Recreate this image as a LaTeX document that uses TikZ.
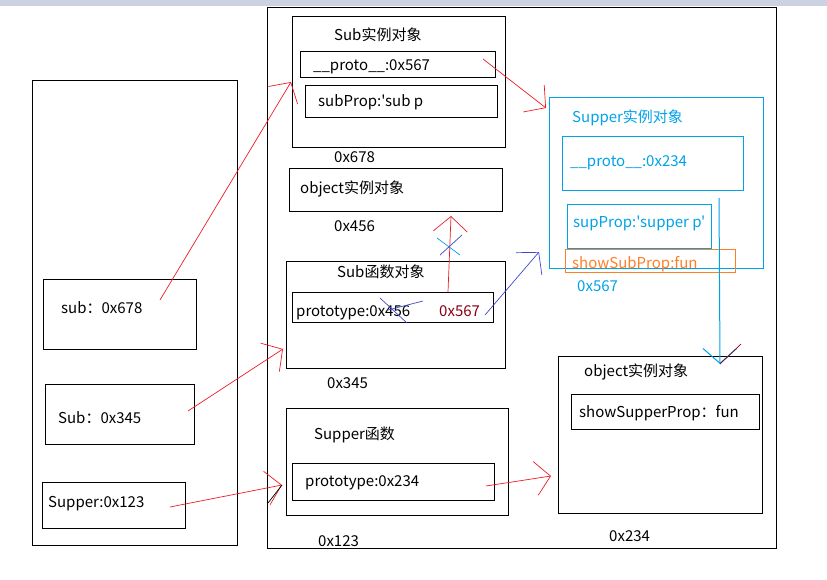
\documentclass[tikz,border=0pt]{standalone}
\usepackage{fontspec}
\setmainfont{Noto Sans CJK SC}[Ligatures=TeXOff]
\usetikzlibrary{arrows.meta}

\definecolor{pred}{HTML}{ED1C24}
\definecolor{pcyan}{HTML}{00A2E8}
\definecolor{porange}{HTML}{FF7F27}
\definecolor{pblue}{HTML}{3F48CC}
\definecolor{pdark}{HTML}{880015}
\definecolor{topbar}{HTML}{CBD3E3}

\tikzset{
  box/.style={draw, line width=1.2pt, anchor=north west, inner sep=0pt},
  txt/.style={anchor=west, inner sep=0pt, font=\fontsize{15}{17}\selectfont},
  hand/.style={-{Straight Barb[length=15pt,width=34pt]}, line width=0.7pt},
}

\begin{document}
\begin{tikzpicture}[x=1pt,y=-1pt]
\useasboundingbox (0,0) rectangle (827,580);
\fill[topbar] (0,0) rectangle (827,6);

%% stack
\node[box, minimum width=205pt, minimum height=465pt] (stack) at (32,80) {};
\node[box, minimum width=153pt, minimum height=70pt] (subv) at (43,279) {};
\node[txt] (subvT) at (61,308) {sub：0x678};
\node[box, minimum width=149pt, minimum height=60pt] (Subv) at (45,384) {};
\node[txt] (SubvT) at (58,418) {Sub：0x345};
\node[box, minimum width=143pt, minimum height=46pt] (supv) at (42,482) {};
\node[txt] (supvT) at (48,504) {Supper:0x123};

%% heap
\node[box, minimum width=509pt, minimum height=541pt] (heap) at (267,7) {};

% Sub instance
\node[box, minimum width=213pt, minimum height=131pt] (subobj) at (292,16) {};
\node[txt] (subobjT) at (334,35) {Sub实例对象};
\node[box, minimum width=195pt, minimum height=26pt] (proto1) at (300,51) {};
\node[txt] (proto1T) at (313,67) {\_\_proto\_\_:0x567};
\node[box, minimum width=192pt, minimum height=32pt] (subprop) at (305,85) {};
\node[txt] (subpropT) at (318,102) {subProp:'sub p};
\node[txt] (subobjA) at (334,157) {0x678};

% object instance (top)
\node[box, minimum width=213pt, minimum height=43pt] (objA) at (289,168) {};
\node[txt] (objAT) at (300,189) {object实例对象};
\node[txt] (objAA) at (334,226) {0x456};

% Sub function
\node[box, minimum width=219pt, minimum height=107pt] (subfn) at (286,261) {};
\node[txt] (subfnT) at (337,272) {Sub函数对象};
\node[box, minimum width=201pt, minimum height=30pt] (proto2) at (292,292) {};
\node[txt] (proto2T) at (296,313) {prototype:0x456};
\node[txt, text=pdark] (proto2N) at (439,311) {0x567};
\node[txt] (subfnA) at (327,383) {0x345};

% Supper function
\node[box, minimum width=222pt, minimum height=107pt] (supfn) at (286,408) {};
\node[txt] (supfnT) at (314,435) {Supper函数};
\node[box, minimum width=202pt, minimum height=37pt] (proto3) at (292,463) {};
\node[txt] (proto3T) at (305,483) {prototype:0x234};
\node[txt] (supfnA) at (318,541) {0x123};

% Supper instance
\node[box, draw=pcyan, minimum width=214pt, minimum height=171pt] (supobj) at (549,97) {};
\node[txt, text=pcyan] (supobjT) at (572,118) {Supper实例对象};
\node[box, draw=pcyan, minimum width=181pt, minimum height=54pt] (proto4) at (562,136) {};
\node[txt, text=pcyan] (proto4T) at (570,163) {\_\_proto\_\_:0x234};
\node[box, draw=pcyan, minimum width=144pt, minimum height=44pt] (supprop) at (567,204) {};
\node[txt, text=pcyan] (suppropT) at (573,223) {supProp:'supper p'};
\node[box, draw=porange, minimum width=170pt, minimum height=23pt] (showsub) at (565,249) {};
\node[txt, text=porange] (showsubT) at (572,264) {showSubProp:fun};
\node[txt, text=pcyan] (supobjA) at (577,286) {0x567};

% object instance (bottom)
\node[box, minimum width=204pt, minimum height=157pt] (objB) at (558,356) {};
\node[txt] (objBT) at (584,372) {object实例对象};
\node[box, minimum width=188pt, minimum height=35pt] (showsup) at (571,394) {};
\node[txt] (showsupT) at (579,413) {showSupperProp：fun};
\node[txt] (objBA) at (609,536) {0x234};

%% pointers
\coordinate (p1) at (160,300); \coordinate (q1) at (291,82);
\coordinate (p2) at (188,411); \coordinate (q2) at (283,349);
\coordinate (p3) at (170,507); \coordinate (q3) at (282,485);
\coordinate (p4) at (486,486); \coordinate (q4) at (551,476);
\coordinate (p5) at (483,59);  \coordinate (q5) at (546,108);
\coordinate (p6) at (448,292); \coordinate (q6) at (451,216);
\coordinate (p7) at (485,315); \coordinate (q7) at (539,252);
\coordinate (p8) at (719,198); \coordinate (q8) at (720,364);

\draw[hand, pred] (p1) -- (q1);
\draw[hand, pred] (p2) -- (q2);
\draw[hand, pred] (p3) -- (q3);
\draw[line width=0.7pt] (q3) -- ++(-14,18);
\draw[hand, pred] (p4) -- (q4);
\draw[hand, pred] (p5) -- (q5);
\draw[hand, pred] (p6) -- (q6);
\draw[hand, pblue] (p7) -- (q7);
\draw[hand, pcyan, line width=1pt] (p8) -- (q8);
\draw[pdark, line width=0.7pt] (q8) -- ++(21,-20);

% crossed out
\draw[pcyan, line width=0.7pt] (437,238) -- (460,255);
\draw[pblue, line width=0.7pt] (462,235) -- (440,255);
\draw[pblue, line width=0.7pt] (380,298) -- (407,323);
\draw[pblue, line width=0.7pt] (423,301) -- (388,310);
\end{tikzpicture}
\end{document}
